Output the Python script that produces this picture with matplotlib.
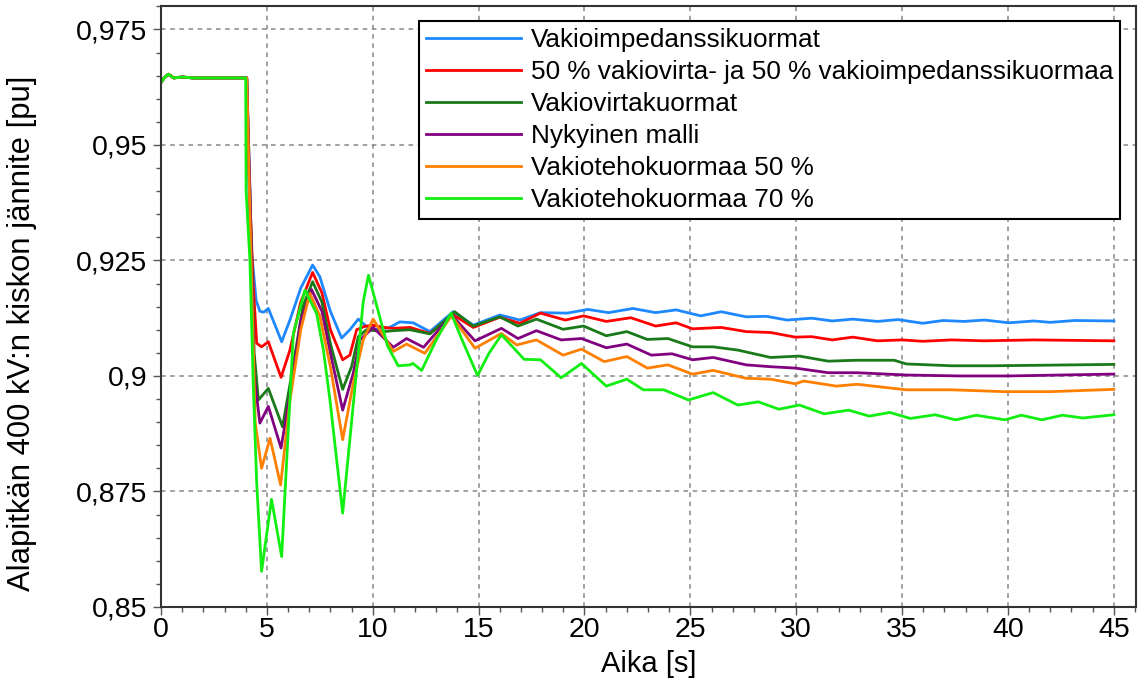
import matplotlib
matplotlib.use("Agg")
import matplotlib.pyplot as plt
from matplotlib.ticker import MultipleLocator, FuncFormatter

plt.rcParams['font.family'] = ['Liberation Sans', 'DejaVu Sans']

# ---- data -------------------------------------------------------------
labels = [
    "Vakioimpedanssikuormat",
    "50 % vakiovirta- ja 50 % vakioimpedanssikuormaa",
    "Vakiovirtakuormat",
    "Nykyinen malli",
    "Vakiotehokuormaa 50 %",
    "Vakiotehokuormaa 70 %",
]
colors = ["#1e88ff", "#ff0000", "#1a7a1a", "#800080", "#ff8000", "#11ee11"]

t_pre = [0.0, 0.15, 0.35, 0.6, 1.0, 1.5, 2.0, 3.0, 4.0]
v_pre = [0.9635, 0.9645, 0.9653, 0.9645, 0.9647, 0.9645, 0.9645, 0.9645, 0.9645]

t_blue = [4.05, 4.09, 4.2, 4.49, 4.67, 4.85, 5.07, 5.3, 5.7, 6.09, 6.6, 7.16, 7.5, 8.0, 8.53,
          8.92, 9.32, 9.63, 10.02, 10.5, 10.8, 11.28, 11.91, 12.7, 13.8, 14.75, 16.0, 16.95,
          17.92, 19.18, 20.16, 21.13, 22.29, 23.36, 24.33, 25.49, 26.46, 27.63, 28.6, 29.57,
          30.73, 31.7, 32.67, 33.84, 34.81, 35.97, 36.94, 37.92, 38.89, 40.05, 41.22, 41.99,
          43.16, 45.0]
v_blue = [0.9645, 0.9525, 0.9309, 0.9164, 0.9140, 0.9138, 0.9146, 0.9120, 0.9074, 0.9121,
          0.9190, 0.9240, 0.9215, 0.9140, 0.9082, 0.9100, 0.9123, 0.9110, 0.9100, 0.9103,
          0.9105, 0.9117, 0.9115, 0.9096, 0.9139, 0.9110, 0.9132, 0.9121, 0.9137, 0.9136,
          0.9144, 0.9137, 0.9146, 0.9137, 0.9143, 0.9130, 0.9139, 0.9128, 0.9129, 0.9121,
          0.9125, 0.9119, 0.9123, 0.9118, 0.9122, 0.9114, 0.9120, 0.9118, 0.9121, 0.9115,
          0.9119, 0.9116, 0.9120, 0.9119]

t_red = [4.05, 4.15, 4.35, 4.52, 4.75, 5.07, 5.67, 6.09, 6.6, 7.16, 7.6, 8.0, 8.58, 8.92,
         9.24, 9.6, 10.02, 10.5, 10.97, 11.76, 12.7, 13.8, 14.75, 16.0, 16.95, 17.92, 19.09,
         19.96, 21.03, 22.19, 23.36, 24.33, 25.1, 26.46, 27.63, 28.79, 29.96, 30.73, 31.7,
         32.67, 33.84, 35.0, 35.97, 37.33, 38.89, 41.22, 45.0]
v_red = [0.9645, 0.9450, 0.9200, 0.9071, 0.9063, 0.9074, 0.8997, 0.9056, 0.9160, 0.9224,
         0.9180, 0.9100, 0.9035, 0.9045, 0.9100, 0.9107, 0.9110, 0.9105, 0.9103, 0.9105,
         0.9092, 0.9132, 0.9105, 0.9127, 0.9114, 0.9136, 0.9121, 0.9130, 0.9118, 0.9126,
         0.9108, 0.9115, 0.9102, 0.9105, 0.9096, 0.9094, 0.9084, 0.9085, 0.9078, 0.9084,
         0.9076, 0.9078, 0.9075, 0.9078, 0.9076, 0.9078, 0.9076]

t_dgreen = [4.05, 4.2, 4.4, 4.6, 5.07, 5.74, 6.2, 6.7, 7.16, 7.6, 8.0, 8.58, 9.0, 9.32, 9.7,
            10.5, 11.0, 11.76, 12.7, 13.87, 14.75, 16.0, 16.86, 17.73, 18.99, 19.96, 21.03,
            22.0, 22.97, 23.94, 25.1, 26.08, 27.24, 28.79, 30.15, 31.51, 32.87, 34.62, 35.2,
            37.33, 39.27, 41.22, 45.0]
v_dgreen = [0.9645, 0.9400, 0.9050, 0.8948, 0.8973, 0.8890, 0.9010, 0.9150, 0.9204, 0.9160,
            0.9070, 0.8971, 0.9020, 0.9085, 0.9100, 0.9096, 0.9098, 0.9100, 0.9091, 0.9139,
            0.9108, 0.9128, 0.9108, 0.9123, 0.9101, 0.9108, 0.9087, 0.9096, 0.9079, 0.9081,
            0.9063, 0.9063, 0.9056, 0.9040, 0.9043, 0.9032, 0.9034, 0.9034, 0.9026, 0.9022,
            0.9022, 0.9023, 0.9025]

t_purple = [4.05, 4.2, 4.4, 4.67, 5.07, 5.67, 6.2, 6.6, 7.11, 7.6, 8.0, 8.58, 9.08, 9.4,
            10.02, 10.97, 11.6, 12.4, 13.72, 14.83, 16.08, 16.86, 17.73, 18.9, 19.86, 21.03,
            22.0, 23.16, 24.13, 25.1, 26.08, 27.63, 28.79, 29.96, 31.51, 32.87, 35.2, 37.72,
            40.05, 42.5, 45.0]
v_purple = [0.9645, 0.9400, 0.9000, 0.8898, 0.8934, 0.8844, 0.8990, 0.9120, 0.9187, 0.9140,
            0.9050, 0.8926, 0.9006, 0.9078, 0.9105, 0.9062, 0.9081, 0.9062, 0.9132, 0.9076,
            0.9103, 0.9081, 0.9098, 0.9078, 0.9081, 0.9061, 0.9069, 0.9045, 0.9048, 0.9035,
            0.9040, 0.9024, 0.9020, 0.9017, 0.9007, 0.9007, 0.9002, 0.9000, 0.9000, 0.9002,
            0.9004]

t_orange = [4.05, 4.2, 4.45, 4.75, 5.15, 5.65, 6.1, 6.6, 7.03, 7.5, 8.0, 8.58, 9.08, 9.55,
            10.02, 10.97, 11.6, 12.46, 13.72, 14.83, 16.08, 16.8, 17.73, 18.99, 19.86, 20.93,
            22.0, 22.97, 23.94, 25.1, 26.08, 27.63, 28.79, 29.96, 30.35, 31.9, 32.87, 35.2,
            37.33, 39.86, 41.99, 45.0]
v_orange = [0.9645, 0.9350, 0.8900, 0.8800, 0.8865, 0.8764, 0.8950, 0.9100, 0.9179, 0.9130,
            0.9020, 0.8862, 0.8984, 0.9078, 0.9123, 0.9053, 0.9069, 0.9049, 0.9130, 0.9060,
            0.9092, 0.9067, 0.9078, 0.9045, 0.9058, 0.9031, 0.9042, 0.9017, 0.9024, 0.9004,
            0.9012, 0.8995, 0.8993, 0.8983, 0.8989, 0.8978, 0.8982, 0.8970, 0.8970, 0.8966,
            0.8966, 0.8971]

t_lgreen = [4.02, 4.2, 4.36, 4.52, 4.75, 5.22, 5.7, 6.25, 6.8, 7.35, 7.67, 7.98, 8.58, 9.0,
            9.55, 9.8, 10.2, 10.7, 11.2, 11.76, 11.9, 12.31, 13.0, 13.7, 14.2, 14.95, 15.5,
            16.08, 17.15, 17.92, 18.9, 19.86, 21.03, 22.0, 22.78, 23.75, 24.91, 26.08, 27.24,
            28.21, 29.18, 30.15, 31.32, 32.48, 33.45, 34.42, 35.39, 36.56, 37.53, 38.5, 39.86,
            40.63, 41.6, 42.57, 43.54, 45.0]
v_lgreen = [0.9400, 0.9250, 0.8977, 0.8768, 0.8577, 0.8733, 0.8609, 0.9092, 0.9186, 0.9135,
            0.9056, 0.8948, 0.8703, 0.8900, 0.9160, 0.9218, 0.9150, 0.9065, 0.9022, 0.9024,
            0.9027, 0.9012, 0.9078, 0.9136, 0.9080, 0.9001, 0.9050, 0.9089, 0.9036, 0.9035,
            0.8996, 0.9027, 0.8978, 0.8993, 0.8970, 0.8970, 0.8948, 0.8964, 0.8937, 0.8944,
            0.8928, 0.8937, 0.8918, 0.8926, 0.8913, 0.8921, 0.8908, 0.8916, 0.8905, 0.8915,
            0.8905, 0.8915, 0.8905, 0.8915, 0.8909, 0.8916]

series_t = [t_blue, t_red, t_dgreen, t_purple, t_orange, t_lgreen]
series_v = [v_blue, v_red, v_dgreen, v_purple, v_orange, v_lgreen]

x_ticks = [0, 5, 10, 15, 20, 25, 30, 35, 40, 45]
y_ticks = [0.85, 0.875, 0.9, 0.925, 0.95, 0.975]

# ---- plot -------------------------------------------------------------
fig = plt.figure(figsize=(11.45, 6.86), dpi=100)
ax = fig.add_axes([0.1406, 0.1152, 0.8516, 0.8756])

for t, v, c, lab in zip(series_t, series_v, colors, labels):
    ax.plot(t_pre + t, v_pre + v, color=c, lw=2.0, label=lab, solid_joinstyle='round')

ax.set_xlim(0, 46.05)
ax.set_ylim(0.85, 0.98)
ax.set_xticks(x_ticks)
ax.set_yticks(y_ticks)
ax.xaxis.set_minor_locator(MultipleLocator(1))
ax.yaxis.set_minor_locator(MultipleLocator(0.005))

def comma_fmt(val, pos):
    s = f"{val:.3f}".rstrip('0').rstrip('.')
    return s.replace('.', ',')

ax.yaxis.set_major_formatter(FuncFormatter(comma_fmt))
ax.xaxis.set_major_formatter(FuncFormatter(lambda v, p: f"{int(round(v))}"))

ax.tick_params(axis='both', which='major', labelsize=20.5, length=6, width=1,
               color='#555555', direction='out', pad=1.5)
ax.tick_params(axis='y', which='major', pad=4)
ax.tick_params(axis='both', which='minor', length=3.5, width=1, color='#555555',
               direction='out')

ax.grid(True, which='major', color='#888888', linestyle=(0, (3, 3)), linewidth=1.1)
for sp in ax.spines.values():
    sp.set_color('#333333')
    sp.set_linewidth(1.5)

ax.set_xlabel("Aika [s]", fontsize=21)
ax.set_ylabel("Alapitkän 400 kV:n kiskon jännite [pu]", fontsize=22.3)
ax.xaxis.set_label_coords(0.5, -0.072)
ax.yaxis.set_label_coords(-0.127, 0.455)

leg = ax.legend(loc='upper right', bbox_to_anchor=(0.9836, 0.975), fontsize=18.8,
                frameon=True, fancybox=False, edgecolor='black', framealpha=1,
                handlelength=3.64, handletextpad=0.4, labelspacing=0.31,
                borderpad=0.25, borderaxespad=0.0)
leg.get_frame().set_linewidth(1.5)

fig.savefig("out.png", dpi=100)
